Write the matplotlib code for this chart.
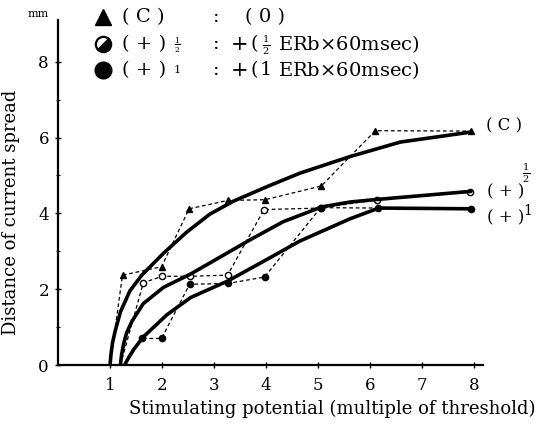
import matplotlib
matplotlib.use("Agg")
import matplotlib.pyplot as plt
from matplotlib.lines import Line2D
from matplotlib.markers import MarkerStyle
from matplotlib.transforms import Affine2D

plt.rcParams['font.family'] = ['DejaVu Serif']
plt.rcParams['mathtext.fontset'] = 'dejavuserif'

# measured points (dashed) - stimulating potential vs spread distance
c_x = [1.0, 1.24, 1.99, 2.52, 3.26, 3.98, 5.06, 6.1, 7.94]
c_y = [0.0, 2.37, 2.59, 4.12, 4.34, 4.36, 4.72, 6.18, 6.17]
half_x = [1.2, 1.64, 2.0, 2.53, 3.26, 3.96, 5.05, 6.14, 7.92]
half_y = [0.0, 2.17, 2.34, 2.34, 2.37, 4.10, 4.14, 4.36, 4.56]
one_x = [1.28, 1.62, 1.99, 2.53, 3.26, 3.97, 5.05, 6.15, 7.94]
one_y = [0.0, 0.70, 0.70, 2.13, 2.15, 2.32, 4.15, 4.14, 4.12]

# hand-drawn fitted curves (solid)
c_fit_x = [1.0, 1.02, 1.05, 1.1, 1.2, 1.38, 1.61, 2.03, 2.47, 2.92, 3.37, 4.01, 4.65, 5.62, 6.58, 7.92]
c_fit_y = [0.0, 0.3, 0.6, 0.9, 1.4, 1.95, 2.37, 2.95, 3.5, 3.98, 4.32, 4.70, 5.06, 5.50, 5.88, 6.14]
half_fit_x = [1.2, 1.22, 1.26, 1.32, 1.42, 1.64, 2.03, 2.55, 3.12, 3.69, 4.33, 5.07, 5.62, 6.16, 7.94]
half_fit_y = [0.0, 0.25, 0.55, 0.85, 1.15, 1.62, 2.05, 2.4, 2.85, 3.3, 3.78, 4.17, 4.30, 4.37, 4.58]
one_fit_x = [1.28, 1.36, 1.46, 1.64, 2.09, 2.55, 3.27, 4.01, 4.65, 5.62, 6.17, 7.95]
one_fit_y = [0.0, 0.2, 0.42, 0.74, 1.32, 1.78, 2.22, 2.78, 3.27, 3.86, 4.14, 4.12]

x_ticks = [1, 2, 3, 4, 5, 6, 7, 8]
y_ticks = [0, 2, 4, 6, 8]

W, H = 539, 423
fig = plt.figure(figsize=(W / 100, H / 100), dpi=100)
ax = fig.add_axes([58 / W, 58 / H, 425 / W, 345 / H])


def px(x, y):
    return x / W, 1 - y / H


# dashed measured data
for xs, ys in [(c_x, c_y), (half_x, half_y), (one_x, one_y)]:
    ax.plot(xs, ys, color='black', lw=0.9, ls=(0, (3, 2.2)))
ax.plot(c_x[1:], c_y[1:], '^', color='black', ms=4.5, ls='none')
ax.plot(half_x[1:], half_y[1:], 'o', mfc='white', mec='black', mew=1.0, ms=4.5, ls='none')
ax.plot(one_x[1:], one_y[1:], 'o', color='black', ms=4.5, ls='none')

# solid fitted curves
for fx, fy in [(c_fit_x, c_fit_y), (half_fit_x, half_fit_y), (one_fit_x, one_fit_y)]:
    ax.plot(fx, fy, '-', color='black', lw=2.6, solid_capstyle='round', solid_joinstyle='round')

ax.set_xlim(0, 8.17)
ax.set_ylim(0, 9.1)
ax.spines['top'].set_visible(False)
ax.spines['right'].set_visible(False)
ax.spines['left'].set_linewidth(1.6)
ax.spines['bottom'].set_linewidth(1.6)
ax.set_xticks(x_ticks)
ax.set_yticks(y_ticks)
ax.set_yticks([1, 3, 5, 7], minor=True)
ax.tick_params(axis='both', direction='inout', length=5, width=1, labelsize=12)
ax.tick_params(axis='y', which='minor', direction='inout', length=3, width=0.8)
ax.tick_params(axis='x', pad=6)
ax.tick_params(axis='y', pad=4)

ax.set_xlabel('Stimulating potential (multiple of threshold)', fontsize=13)
ax.xaxis.set_label_coords(0.645, -0.1)
ax.set_ylabel('Distance of current spread', fontsize=13)
ax.yaxis.set_label_coords(-0.09, 0.443)
fig.text(*px(38, 14), 'mm', fontsize=8, ha='center', va='center')

# right-hand curve labels
fig.text(*px(486, 126), '( C )', fontsize=12, va='center')
fig.text(*px(487, 192), '( + )', fontsize=12, va='center')
fig.text(*px(526, 173), r'$\frac{1}{2}$', fontsize=10, ha='center', va='center')
fig.text(*px(487, 218), '( + )', fontsize=12, va='center')
fig.text(*px(528, 211), '1', fontsize=10, ha='center', va='center')

# key at the top
rows = [17, 44, 70]
half_marker = MarkerStyle('o', fillstyle='bottom', transform=Affine2D().rotate_deg(45))
fig.add_artist(Line2D([103 / W], [1 - rows[0] / H], marker='^', color='black', ms=11, ls='none',
                      transform=fig.transFigure))
fig.add_artist(Line2D([103 / W], [1 - rows[1] / H], marker=half_marker, mfc='black', mec='black',
                      markerfacecoloralt='white', mew=1.6, ms=11, ls='none',
                      transform=fig.transFigure))
fig.add_artist(Line2D([103 / W], [1 - rows[2] / H], marker='o', color='black', ms=12, ls='none',
                      transform=fig.transFigure))
fig.text(*px(122, rows[0]), '( C )', fontsize=14, va='center')
fig.text(*px(122, rows[1]), '( + )', fontsize=14, va='center')
fig.text(*px(177, rows[1] + 1), r'$\frac{1}{2}$', fontsize=8, ha='center', va='center')
fig.text(*px(122, rows[2]), '( + )', fontsize=14, va='center')
fig.text(*px(177, rows[2]), '1', fontsize=8, ha='center', va='center')
fig.text(*px(213, rows[0]), ':', fontsize=14, va='center')
fig.text(*px(245, rows[0]), '( 0 )', fontsize=14, va='center')
for r in rows[1:]:
    fig.text(*px(213, r), ':', fontsize=14, va='center')
    fig.text(*px(240, r), '+', fontsize=15, ha='center', va='center')
    fig.text(*px(251, r), '(', fontsize=14, va='center')
fig.text(*px(266, rows[1] + 1), r'$\frac{1}{2}$', fontsize=10, ha='center', va='center')
fig.text(*px(266, rows[2]), '1', fontsize=14, ha='center', va='center')
fig.text(*px(278, rows[1]), r'ERb$\times$60msec)', fontsize=14, va='center')
fig.text(*px(278, rows[2]), r'ERb$\times$60msec)', fontsize=14, va='center')

fig.savefig('out.png', dpi=100)
